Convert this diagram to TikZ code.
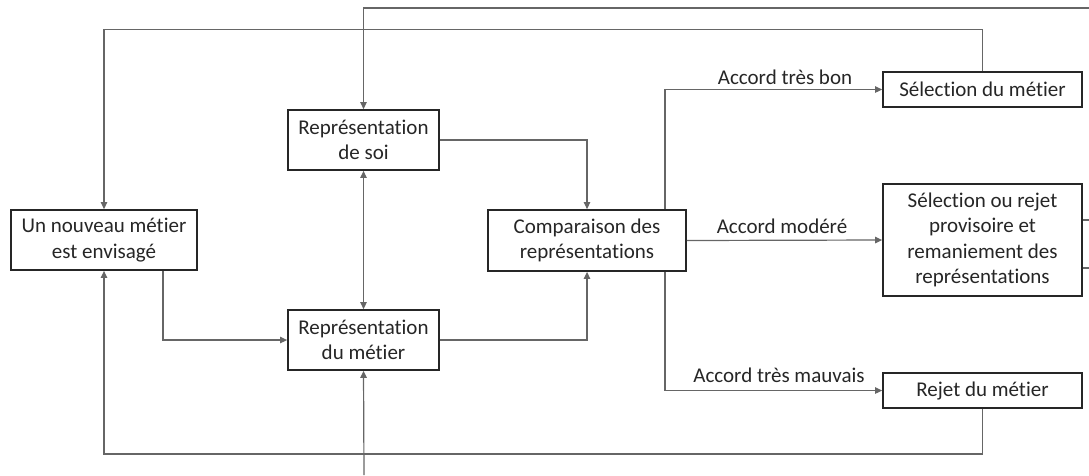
\documentclass[tikz,border=0pt]{standalone}
\usepackage{fontspec}
\setmainfont{Carlito}[Ligatures=NoCommon]
\usetikzlibrary{arrows.meta}
\begin{document}
\begin{tikzpicture}[x=1pt,y=-1pt,
  box/.style={draw=black!85,line width=1.8pt,fill=white,align=center,
    inner sep=0pt,text=black!85,font=\fontsize{21}{25.5}\selectfont},
  link/.style={draw=black!60,line width=1.2pt},
  arr/.style={link,-{Triangle[length=7pt,width=6.5pt]}},
  both/.style={link,{Triangle[length=7pt,width=6.5pt]}-{Triangle[length=7pt,width=6.5pt]}},
  lbl/.style={anchor=base,inner sep=0pt,text=black!85,font=\fontsize{21}{25.5}\selectfont}]
\useasboundingbox (0,0) rectangle (1089,475);

% boxes
\node[box,minimum width=186pt,minimum height=60pt] (nouveau) at (104,240)
  {Un nouveau métier\\est envisagé};
\node[box,minimum width=151pt,minimum height=60pt] (soi) at (363.5,140)
  {Représentation\\de soi};
\node[box,minimum width=151pt,minimum height=60pt] (metier) at (363.5,340)
  {Représentation\\du métier};
\node[box,minimum width=198pt,minimum height=61pt] (comp) at (587,240.5)
  {Comparaison des\\représentations};
\node[box,minimum width=199pt,minimum height=35pt] (sel) at (982.5,89.5)
  {Sélection du métier};
\node[box,minimum width=199pt,minimum height=112pt] (prov) at (982.5,240)
  {Sélection ou rejet\\provisoire et\\remaniement des\\représentations};
\node[box,minimum width=199pt,minimum height=35pt] (rejet) at (982.5,390.5)
  {Rejet du métier};

% free ends at the picture border
\coordinate (topin) at (1089,8);
\coordinate (botin) at (364,475);
\coordinate (outa) at (1089,220);
\coordinate (outb) at (1089,268);

% connectors
\draw[arr] (topin) -| (soi.north);
\draw[arr] (botin) -- (metier.south);
\draw[both] (soi.south) -- (metier.north);
\draw[arr] (soi.east) -| (comp.north);
\draw[arr] (metier.east) -| (comp.south);
\draw[arr] ([xshift=59pt]nouveau.south) |- (metier.west);
\draw[arr] (sel.north) -- ++(0,-42) -| (nouveau.north);
\draw[arr] (rejet.south) -- ++(0,45) -| (nouveau.south);
\draw[arr] ([xshift=-22pt]comp.north east) |- (sel.west);
\draw[arr] ([xshift=-22pt]comp.south east) |- (rejet.west);
\draw[arr] (comp.east) -- (prov.west);
\draw[link] (prov.east |- outa) -- (outa);
\draw[link] (prov.east |- outb) -- (outb);

% branch labels
\node[lbl] (lbon) at (785,84) {Accord très bon};
\node[lbl] (lmod) at (782,233) {Accord modéré};
\node[lbl] (lmau) at (779,382) {Accord très mauvais};
\end{tikzpicture}
\end{document}
